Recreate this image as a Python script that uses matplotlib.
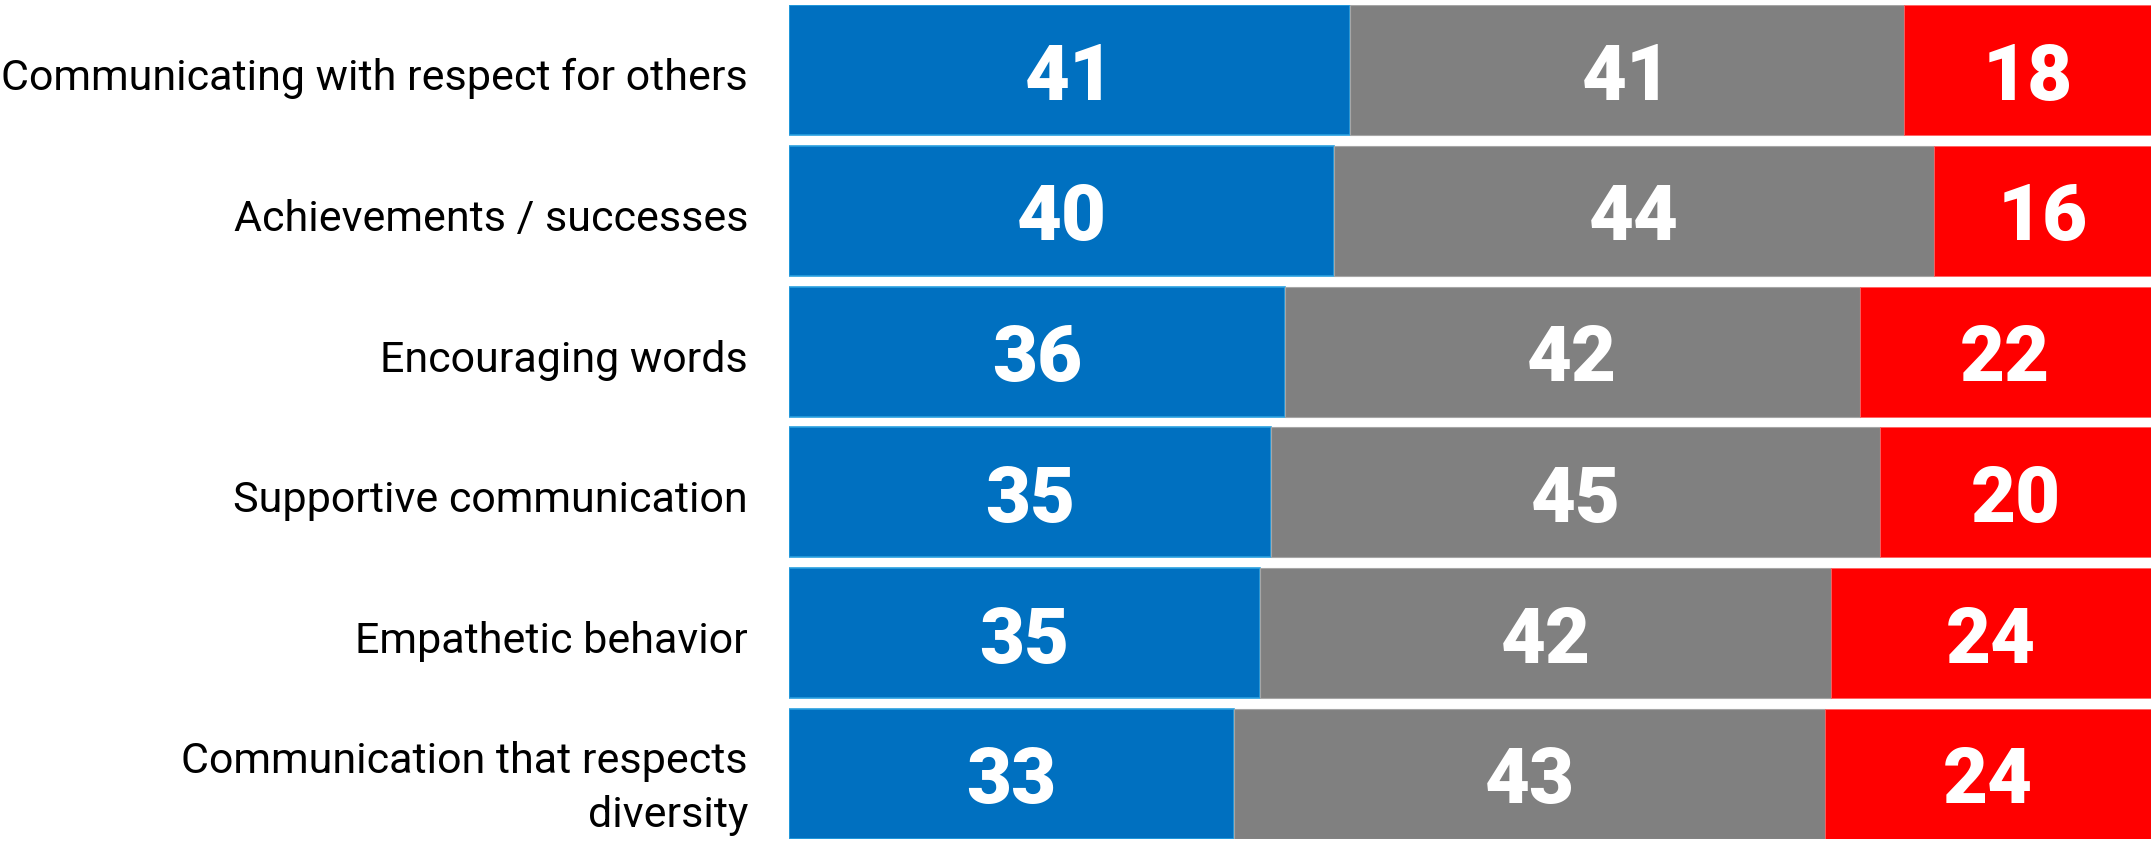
import numpy as np
import matplotlib
matplotlib.use("Agg")
import matplotlib.pyplot as plt
from matplotlib.transforms import ScaledTranslation

# data (top row first)
categories = [
    "Communicating with respect for others",
    "Achievements / successes",
    "Encouraging words",
    "Supportive communication",
    "Empathetic behavior",
    "Communication that respects\ndiversity",
]
blue_vals = [41.2, 40.0, 36.4, 35.4, 34.6, 32.7]
gray_vals = [40.7, 44.1, 42.2, 44.7, 41.9, 43.35]
red_vals = [18.1, 15.9, 21.4, 19.9, 23.5, 23.95]
blue_labels = ["41", "40", "36", "35", "35", "33"]
gray_labels = ["41", "44", "42", "45", "42", "43"]
red_labels = ["18", "16", "22", "20", "24", "24"]

fig = plt.figure(figsize=(21.51, 8.43), dpi=100)
ax = fig.add_axes([789 / 2151, 4 / 843, 1 - 789 / 2151, 834 / 843])

y = np.arange(len(categories))
h = 0.925
blue = np.array(blue_vals)
gray = np.array(gray_vals)
red = np.array(red_vals)

ax.barh(y, blue, height=h, color="#0070C0", edgecolor="#2A9FDF", linewidth=1.2)
ax.barh(y, gray, left=blue, height=h, color="#808080", edgecolor="#A6A6A6", linewidth=0.8)
ax.barh(y, red, left=blue + gray, height=h, color="#FF0000", edgecolor="#FF6060", linewidth=0.6)

num_font = dict(color="white", fontsize=56, fontweight=900,
                family=["Roboto", "Liberation Sans", "DejaVu Sans"], ha="center", va="center")
dy = 0.06  # numbers sit a little below the bar centre
for i in range(len(categories)):
    ax.text(blue[i] / 2, y[i] + dy, blue_labels[i], **num_font)
    ax.text(blue[i] + gray[i] / 2, y[i] + dy, gray_labels[i], **num_font)
    ax.text(blue[i] + gray[i] + red[i] / 2, y[i] + dy, red_labels[i], **num_font)

ax.set_xlim(0, 100)
ax.set_ylim(len(categories) - 1 + h / 2, -h / 2)
ax.set_yticks(y)
ax.set_yticklabels(categories, fontsize=31, family=["Roboto", "Liberation Sans", "DejaVu Sans"],
                   linespacing=1.4)
ax.tick_params(axis="y", length=0, pad=29.5)
ax.set_xticks([])
for s in ax.spines.values():
    s.set_visible(False)

shift = ScaledTranslation(0, -4 / 100, fig.dpi_scale_trans)
for lbl in ax.get_yticklabels():
    lbl.set_transform(lbl.get_transform() + shift)

fig.savefig("out.png", dpi=100)
